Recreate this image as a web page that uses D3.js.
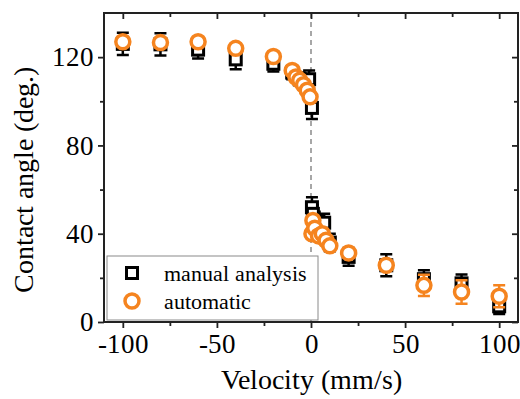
<!DOCTYPE html>
<html>
<head>
<meta charset="utf-8">
<script src="https://cdn.jsdelivr.net/npm/d3@7"></script>
<style>
  @font-face { font-family: "PlotSerif"; src: local("Liberation Serif"), local("LiberationSerif-Regular"), local("LiberationSerif"), local("DejaVu Serif"), local("DejaVuSerif"); }
  body { margin: 0; background: #fff; }
  svg text { font-family: "PlotSerif", "Liberation Serif", "Times New Roman", Times, serif; }
</style>
</head>
<body>
<div id="chart"></div>
<script>
// velocities (mm/s)
var velManual = [-100, -80, -60, -40, -20, -10, -6, -2, -1, 0.5, 0.5, 1, 2, 4, 7, 10, 20, 40, 60, 80, 100];
var angManual = [126, 125.8, 123.4, 119, 117, 113, 110, 108, 110, 97, 52, 49, 46, 44, 45, 36, 29.5, 25.7, 19.4, 17.5, 7.1];
var errManual = [5, 5, 4, 4.5, 3.5, 3, 3, 3, 4, 5, 4.5, 4, 4, 4, 4, 4, 4, 5, 4, 4, 3.5];

var velAuto = [-100, -80, -60, -40, -20, -10, -8, -6, -4, -2, -0.5, 0.5, 1, 2, 4, 6, 8, 10, 20, 40, 60, 80, 100];
var angAuto = [127, 126.6, 127, 124, 120.3, 114, 111, 109.5, 107.5, 105, 102, 40, 46, 42.5, 39, 40, 37, 34.5, 31.3, 25.7, 16.6, 13.6, 11.7];
var errAuto = [2, 2, 2, 2, 2, 2, 2, 2, 2, 2, 2, 2, 2, 2, 2, 2, 2, 2, 2, 2, 4.8, 5.3, 5];

var xMajor = [-100, -50, 0, 50, 100];
var xMinor = [-75, -25, 25, 75];
var yMajor = [0, 40, 80, 120];
var yMinor = [20, 60, 100];

var seriesNames = ["manual analysis", "automatic"];

var width = 520, height = 399;
var margin = {left: 104, right: 2, top: 13, bottom: 77};
var plot_w = width - margin.left - margin.right;
var plot_h = height - margin.top - margin.bottom;
var orange = "#f5841f";

var svg = d3.select('#chart').append('svg')
    .attr('width', width)
    .attr('height', height);

var chart = svg.append('g')
    .attr('transform', 'translate(' + margin.left + ',' + margin.top + ')');

var xScale = d3.scaleLinear()
    .domain([-110, 110])
    .range([0, plot_w]);

var yScale = d3.scaleLinear()
    .domain([0, 140])
    .range([plot_h, 0]);

// dashed line at zero velocity
chart.append('line')
    .attr('x1', xScale(0)).attr('x2', xScale(0))
    .attr('y1', 0).attr('y2', plot_h)
    .attr('stroke', '#8a8a8a')
    .attr('stroke-width', 1.5)
    .attr('stroke-dasharray', '5,4');

var plain = function(d) { return String(d); };

function styleAxis(g) {
  g.attr('font-family', null).attr('font-size', 27);
  g.select('.domain').remove();
  g.selectAll('.tick line').attr('stroke', '#222').attr('stroke-width', 1.8);
  g.selectAll('.tick text').attr('fill', '#000');
}

// bottom + left axes (ticks outward)
chart.append('g')
    .attr('transform', 'translate(0,' + plot_h + ')')
    .call(d3.axisBottom(xScale).tickValues(xMajor).tickSize(6).tickPadding(6).tickFormat(plain))
    .call(styleAxis);
chart.append('g')
    .attr('transform', 'translate(0,' + plot_h + ')')
    .call(d3.axisBottom(xScale).tickValues(xMinor).tickSize(4).tickFormat(''))
    .call(styleAxis);
chart.append('g')
    .call(d3.axisLeft(yScale).tickValues(yMajor).tickSize(6).tickPadding(4).tickFormat(plain))
    .call(styleAxis);
chart.append('g')
    .call(d3.axisLeft(yScale).tickValues(yMinor).tickSize(4).tickFormat(''))
    .call(styleAxis);

// top + right mirror ticks (inward)
chart.append('g')
    .call(d3.axisBottom(xScale).tickValues(xMajor).tickSize(6).tickFormat(''))
    .call(styleAxis);
chart.append('g')
    .call(d3.axisBottom(xScale).tickValues(xMinor).tickSize(4).tickFormat(''))
    .call(styleAxis);
chart.append('g')
    .attr('transform', 'translate(' + plot_w + ',0)')
    .call(d3.axisLeft(yScale).tickValues(yMajor).tickSize(6).tickFormat(''))
    .call(styleAxis);
chart.append('g')
    .attr('transform', 'translate(' + plot_w + ',0)')
    .call(d3.axisLeft(yScale).tickValues(yMinor).tickSize(4).tickFormat(''))
    .call(styleAxis);

// frame
chart.append('rect')
    .attr('width', plot_w).attr('height', plot_h)
    .attr('fill', 'none')
    .attr('stroke', '#222')
    .attr('stroke-width', 2);

function errorBars(vel, ang, err, color) {
  var rows = vel.map(function(v, i) { return {v: v, a: ang[i], e: err[i]}; });
  var g = chart.append('g').attr('stroke', color).attr('stroke-width', 2.5);
  g.selectAll('.eb').data(rows).enter().append('path')
      .attr('fill', 'none')
      .attr('d', function(d) {
        var x = xScale(d.v), y1 = yScale(d.a + d.e), y2 = yScale(d.a - d.e);
        return 'M' + (x - 6) + ',' + y1 + 'H' + (x + 6) +
               'M' + x + ',' + y1 + 'V' + y2 +
               'M' + (x - 6) + ',' + y2 + 'H' + (x + 6);
      });
  return rows;
}

var manRows = errorBars(velManual, angManual, errManual, '#000');
chart.append('g').selectAll('rect').data(manRows).enter().append('rect')
    .attr('x', function(d) { return xScale(d.v) - 5.5; })
    .attr('y', function(d) { return yScale(d.a) - 5.5; })
    .attr('width', 11).attr('height', 11)
    .attr('fill', '#fff')
    .attr('stroke', '#000')
    .attr('stroke-width', 3);

var autoRows = errorBars(velAuto, angAuto, errAuto, orange);
chart.append('g').selectAll('circle').data(autoRows).enter().append('circle')
    .attr('cx', function(d) { return xScale(d.v); })
    .attr('cy', function(d) { return yScale(d.a); })
    .attr('r', 7)
    .attr('fill', '#fff')
    .attr('stroke', orange)
    .attr('stroke-width', 3.5);

// legend
var legend = svg.append('g');
legend.append('rect')
    .attr('x', 107).attr('y', 256)
    .attr('width', 211).attr('height', 64)
    .attr('fill', '#fff')
    .attr('stroke', '#8a8a8a')
    .attr('stroke-width', 1);
legend.append('rect')
    .attr('x', 126.5).attr('y', 267.5).attr('width', 11).attr('height', 11)
    .attr('fill', '#fff').attr('stroke', '#000').attr('stroke-width', 3);
legend.append('circle')
    .attr('cx', 132).attr('cy', 301).attr('r', 7)
    .attr('fill', '#fff').attr('stroke', orange).attr('stroke-width', 3.5);
legend.selectAll('.lt').data(seriesNames).enter().append('text')
    .attr('x', 164)
    .attr('y', function(d, i) { return 281 + i * 28; })
    .attr('font-size', 22)
    .text(function(d) { return d; });

// axis titles
svg.append('text')
    .attr('x', margin.left + xScale(0))
    .attr('y', 389)
    .attr('text-anchor', 'middle')
    .attr('font-size', 28)
    .text('Velocity (mm/s)');

svg.append('text')
    .attr('transform', 'translate(33,' + (margin.top + plot_h / 2 + 12) + ') rotate(-90)')
    .attr('text-anchor', 'middle')
    .attr('font-size', 28)
    .text('Contact angle (deg.)');
</script>
</body>
</html>
